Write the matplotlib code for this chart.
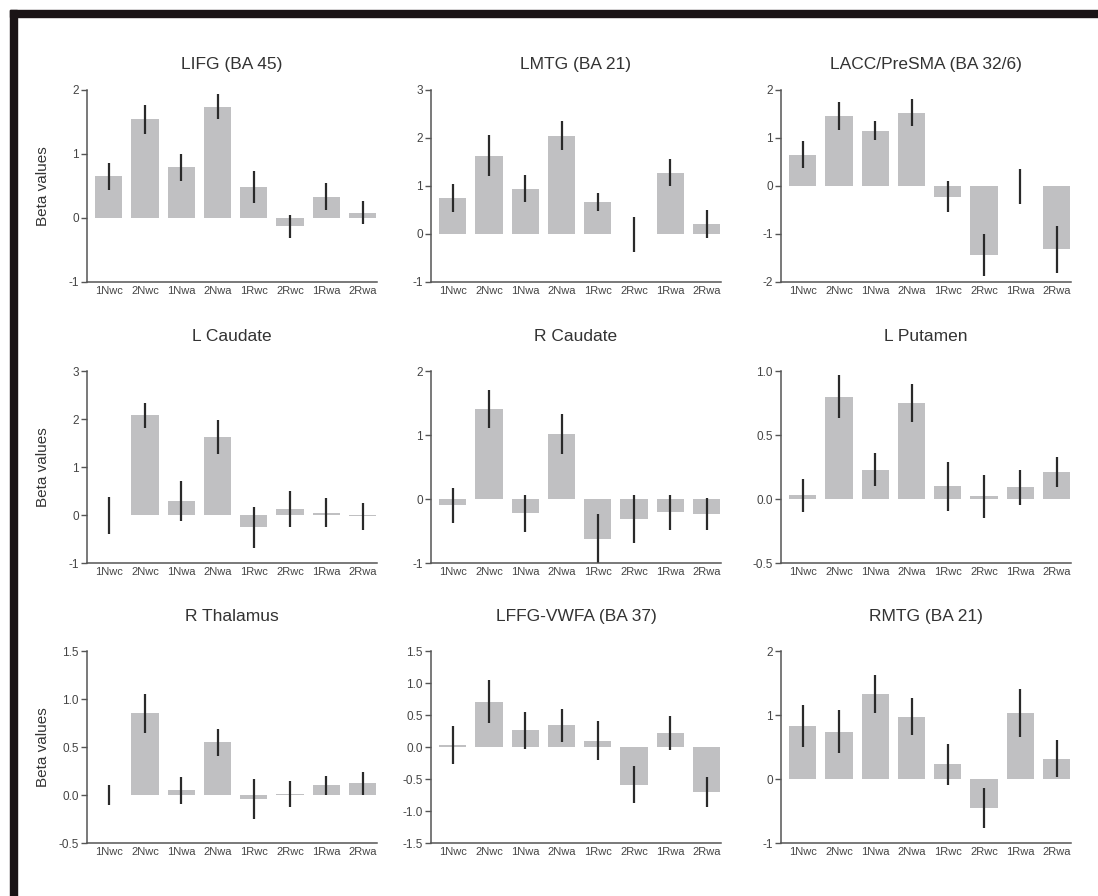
import matplotlib
matplotlib.use("Agg")
import matplotlib.pyplot as plt
from matplotlib.patches import Rectangle
import numpy as np

plt.rcParams['font.family'] = ['Liberation Sans', 'DejaVu Sans']
plt.rcParams['axes.unicode_minus'] = False

# condições (eixo x)
condicoes = ["1Nwc", "2Nwc", "1Nwa", "2Nwa", "1Rwc", "2Rwc", "1Rwa", "2Rwa"]

# títulos das regiões
titulos = ["LIFG (BA 45)", "LMTG (BA 21)", "LACC/PreSMA (BA 32/6)",
           "L Caudate", "R Caudate", "L Putamen",
           "R Thalamus", "LFFG-VWFA (BA 37)", "RMTG (BA 21)"]

# médias (beta)
lifg = [0.65, 1.54, 0.79, 1.74, 0.48, -0.13, 0.33, 0.08]
lmtg = [0.75, 1.63, 0.94, 2.05, 0.67, -0.01, 1.28, 0.21]
lacc = [0.65, 1.46, 1.15, 1.53, -0.22, -1.44, -0.01, -1.32]
l_caudate = [-0.01, 2.08, 0.29, 1.63, -0.26, 0.12, 0.05, -0.03]
r_caudate = [-0.10, 1.41, -0.22, 1.02, -0.62, -0.31, -0.21, -0.23]
l_putamen = [0.03, 0.80, 0.23, 0.75, 0.10, 0.02, 0.09, 0.21]
r_thalamus = [0.00, 0.85, 0.05, 0.55, -0.04, 0.01, 0.10, 0.12]
lffg = [0.03, 0.71, 0.26, 0.34, 0.10, -0.59, 0.22, -0.70]
rmtg = [0.83, 0.74, 1.33, 0.97, 0.23, -0.45, 1.03, 0.32]

# erros padrão
lifg_err = [0.21, 0.22, 0.21, 0.20, 0.25, 0.18, 0.21, 0.18]
lmtg_err = [0.30, 0.43, 0.28, 0.30, 0.19, 0.36, 0.28, 0.29]
lacc_err = [0.28, 0.30, 0.20, 0.29, 0.33, 0.43, 0.37, 0.49]
l_caudate_err = [0.38, 0.26, 0.42, 0.35, 0.43, 0.38, 0.31, 0.28]
r_caudate_err = [0.27, 0.30, 0.29, 0.31, 0.38, 0.37, 0.28, 0.25]
l_putamen_err = [0.13, 0.17, 0.13, 0.15, 0.19, 0.17, 0.14, 0.12]
r_thalamus_err = [0.10, 0.20, 0.14, 0.14, 0.21, 0.14, 0.10, 0.12]
lffg_err = [0.30, 0.33, 0.29, 0.26, 0.31, 0.29, 0.27, 0.23]
rmtg_err = [0.33, 0.34, 0.30, 0.29, 0.32, 0.31, 0.38, 0.29]

# ticks do eixo y
lifg_ticks = [-1, 0, 1, 2]
lmtg_ticks = [-1, 0, 1, 2, 3]
lacc_ticks = [-2, -1, 0, 1, 2]
l_caudate_ticks = [-1, 0, 1, 2, 3]
r_caudate_ticks = [-1, 0, 1, 2]
l_putamen_ticks = [-0.5, 0.0, 0.5, 1.0]
r_thalamus_ticks = [-0.5, 0.0, 0.5, 1.0, 1.5]
lffg_ticks = [-1.5, -1.0, -0.5, 0.0, 0.5, 1.0, 1.5]
rmtg_ticks = [-1, 0, 1, 2]

medias = [lifg, lmtg, lacc, l_caudate, r_caudate, l_putamen, r_thalamus, lffg, rmtg]
erros = [lifg_err, lmtg_err, lacc_err, l_caudate_err, r_caudate_err,
         l_putamen_err, r_thalamus_err, lffg_err, rmtg_err]
ticks = [lifg_ticks, lmtg_ticks, lacc_ticks, l_caudate_ticks, r_caudate_ticks,
         l_putamen_ticks, r_thalamus_ticks, lffg_ticks, rmtg_ticks]

W, H = 1098, 896
fig = plt.figure(figsize=(W / 100, H / 100), dpi=100)

# moldura preta (topo e esquerda)
fig.patches.append(Rectangle((10 / W, 0), 7 / W, 1 - 10 / H, transform=fig.transFigure,
                             color="#1a1416", zorder=0))
fig.patches.append(Rectangle((10 / W, 1 - 17 / H), 1 - 10 / W, 7 / H, transform=fig.transFigure,
                             color="#1a1416", zorder=0))

# posição dos painéis em pixels
lefts = [87, 431, 781]
tops = [90, 371, 651]
largura, altura = 290, 192
pads = [15, 21.5, 21.5]

x = np.arange(len(condicoes))
for k in range(9):
    lin, col = divmod(k, 3)
    ax = fig.add_axes([lefts[col] / W, 1 - (tops[lin] + altura) / H, largura / W, altura / H])
    ax.bar(x, medias[k], width=0.75, color="#c0c0c2", zorder=1)
    ax.errorbar(x, medias[k], yerr=erros[k], fmt="none", ecolor="#2a2a2a",
                elinewidth=1.6, capsize=0, zorder=2)
    ax.set_xlim(-0.6, 7.4)
    ax.set_ylim(ticks[k][0], ticks[k][-1])
    ax.set_yticks(ticks[k])
    if isinstance(ticks[k][0], float):
        ax.set_yticklabels([f"{t:.1f}" for t in ticks[k]])
    ax.set_xticks(x)
    ax.set_xticklabels(condicoes)
    ax.tick_params(axis="x", length=0, pad=3, labelsize=8, labelcolor="#444444")
    ax.tick_params(axis="y", length=4, width=1, color="#555555", pad=2,
                   labelsize=8.5, labelcolor="#444444")
    for lado in ["top", "right"]:
        ax.spines[lado].set_visible(False)
    for lado in ["left", "bottom"]:
        ax.spines[lado].set_color("#555555")
        ax.spines[lado].set_linewidth(1.1)
    ax.set_title(titulos[k], fontsize=12.5, color="#333333", pad=pads[lin])
    if col == 0:
        ax.set_ylabel("Beta values", fontsize=11, color="#333333")
        ax.yaxis.set_label_coords((50 - lefts[0]) / largura, 0.5)

fig.savefig("out.png", dpi=100, facecolor="white")
